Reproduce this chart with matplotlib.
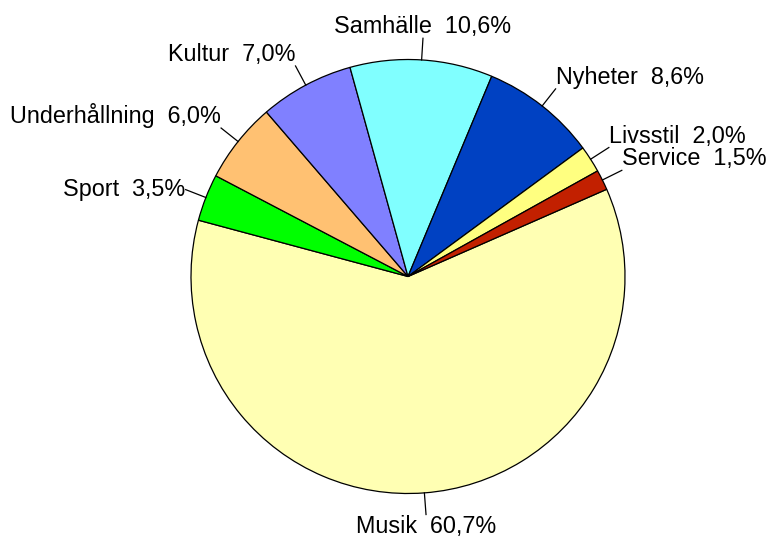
import numpy as np
import matplotlib
matplotlib.use("Agg")
import matplotlib.pyplot as plt

categories = ["Musik", "Sport", "Underhållning", "Kultur", "Samhälle", "Nyheter", "Livsstil", "Service"]
values = [60.7, 3.5, 6.0, 7.0, 10.6, 8.6, 2.0, 1.5]
colors = ["#FFFFB3", "#00FF00", "#FFC172", "#8080FF", "#80FFFF", "#0041C2", "#FFFF80", "#C22000"]

W, H = 768, 541
fig = plt.figure(figsize=(W / 100, H / 100), dpi=100)
ax = fig.add_axes([0, 0, 1, 1])

cx, cy, r = 408, H - 276.5, 217
start = 23.7
wedges, _ = ax.pie(values, colors=colors, startangle=start, counterclock=False,
                   center=(cx, cy), radius=r,
                   wedgeprops=dict(edgecolor="black", linewidth=0.9))
ax.set_xlim(0, W)
ax.set_ylim(0, H)
ax.set_aspect("equal")
ax.axis("off")

for w, cat, v in zip(wedges, categories, values):
    mid = np.deg2rad((w.theta1 + w.theta2) / 2)
    c, s = np.cos(mid), np.sin(mid)
    ax.plot([cx + r * c, cx + 1.1 * r * c], [cy + r * s, cy + 1.1 * r * s],
            color="black", linewidth=0.9)
    ha = "center" if abs(c) < 0.3 else ("left" if c > 0 else "right")
    va = "center" if abs(s) < 0.4 else ("bottom" if s > 0 else "top")
    label = f"{cat}  {v:.1f}%".replace(".", ",")
    ax.text(cx + 1.1 * r * c, cy + 1.1 * r * s, label, ha=ha, va=va,
            fontsize=16.8, family=["Liberation Sans", "DejaVu Sans"])

fig.savefig("out.png", dpi=100)
